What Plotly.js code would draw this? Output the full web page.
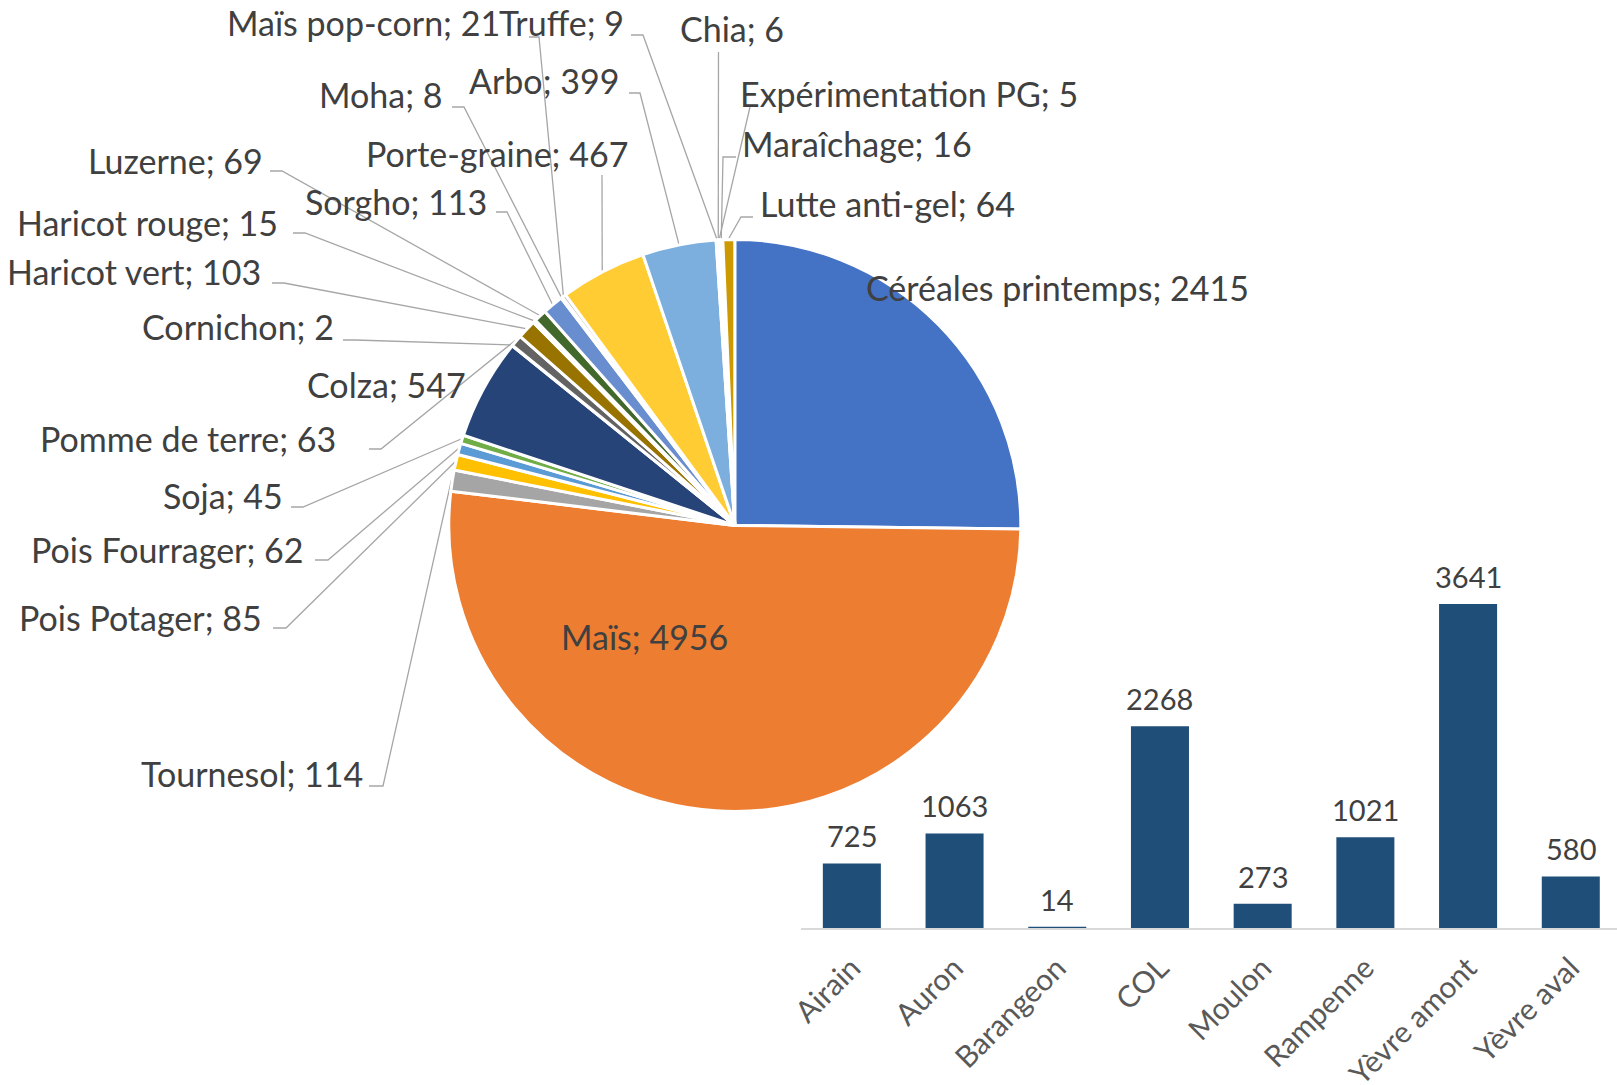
<!DOCTYPE html>
<html><head><meta charset="utf-8">
<script src="https://cdn.plot.ly/plotly-3.0.1.min.js"></script>
<style>html,body{margin:0;padding:0;background:#fff;overflow:hidden}</style>
</head><body>
<div id="chart" style="width:1617px;height:1085px"></div>
<script>
// ---- data ----
const cropNames = ['Céréales printemps','Maïs','Tournesol','Pois Potager','Pois Fourrager','Soja','Colza','Cornichon','Pomme de terre','Haricot vert','Haricot rouge','Luzerne','Sorgho','Moha','Maïs pop-corn','Porte-graine','Arbo','Truffe','Chia','Expérimentation PG','Maraîchage','Lutte anti-gel'];
const cropValues = [2415,4956,114,85,62,45,547,2,63,103,15,69,113,8,21,467,399,9,6,5,16,64];
const cropColors = ['#4472C4','#ED7D31','#A5A5A5','#FFC000','#5B9BD5','#70AD47','#264478','#9E480E','#636363','#997300','#255E91','#43682B','#698ED0','#F1975A','#B7B7B7','#FFCD33','#7CAFDD','#8CC168','#335AA1','#BE5B17','#848484','#CC9A00'];

const basinNames = ['Airain','Auron','Barangeon','COL','Moulon','Rampenne','Yèvre amont','Yèvre aval'];
const basinValues = [725,1063,14,2268,273,1021,3641,580];

// ---- layout constants (pixels) ----
const W = 1617, H = 1085;
const PIE_CX = 734.8, PIE_CY = 525.4, PIE_R = 286;
const FONT = 'Lato, "Open Sans", sans-serif';
const TXT = '#404040';
const px = x => x / W;
const py = y => 1 - y / H;

// label placement: x,y (px, text vertical centre), anchor, and leader-line start (stub)
const labelLayout = {
  'Céréales printemps': {x:864, y:287, a:'left', line:null},
  'Maïs':               {x:644.5, y:637, a:'center', line:null},
  'Tournesol':          {x:365, y:773, a:'right', line:[[369,786],[383,786]]},
  'Pois Potager':       {x:264, y:617, a:'right', line:[[273,628],[286,628]]},
  'Pois Fourrager':     {x:306, y:549, a:'right', line:[[315,560],[328,560]]},
  'Soja':               {x:285, y:496, a:'right', line:[[291,507],[303,507]]},
  'Colza':              {x:468, y:384, a:'right', line:null},
  'Cornichon':          {x:336, y:327, a:'right', line:[[343,340],[355,340]]},
  'Pomme de terre':     {x:338, y:438, a:'right', line:[[369,449],[381,449]]},
  'Haricot vert':       {x:263, y:271, a:'right', line:[[272,283],[284,283]]},
  'Haricot rouge':      {x:279.5, y:222, a:'right', line:[[293,233],[305,233]]},
  'Luzerne':            {x:265, y:160, a:'right', line:[[270,171],[282,171]]},
  'Sorgho':             {x:489, y:201, a:'right', line:[[496,212],[507,212]]},
  'Moha':               {x:445.5, y:95, a:'right', line:[[452,107],[464,107]]},
  'Maïs pop-corn':      {x:502, y:23, a:'right', line:[[529,37],[539,37]]},
  'Porte-graine':       {x:630, y:153, a:'right', line:[[602,175]]},
  'Arbo':               {x:621, y:80, a:'right', line:[[629,93],[640,93]]},
  'Truffe':             {x:497, y:23, a:'left', line:[[631,35],[643,35]]},
  'Chia':               {x:678, y:29, a:'left', line:[[718.5,52]]},
  'Expérimentation PG': {x:738, y:93, a:'left', line:[[750,107]]},
  'Maraîchage':         {x:740, y:144, a:'left', line:[[736,157],[723,157]]},
  'Lutte anti-gel':     {x:758, y:204, a:'left', line:[[753,217],[741,217]]}
};

// ---- pie geometry from data ----
const total = cropValues.reduce((a, b) => a + b, 0);
let cum = 0;
const midAngles = cropValues.map(v => { const m = (cum + v / 2) / total * 2 * Math.PI; cum += v; return m; });
function piePoint(i, rr) {
  const t = midAngles[i];
  return [PIE_CX + rr * Math.sin(t), PIE_CY - rr * Math.cos(t)];
}

const annotations = [];
const shapes = [];
cropNames.forEach((name, i) => {
  const L = labelLayout[name];
  annotations.push({
    xref: 'paper', yref: 'paper', x: px(L.x), y: py(L.y),
    xanchor: L.a, yanchor: 'middle', showarrow: false,
    text: name + '; ' + cropValues[i],
    font: {family: FONT, size: 34, color: TXT}
  });
  if (L.line) {
    const pts = L.line.concat([piePoint(i, PIE_R + 1)]);
    const d = pts.map((p, k) => (k ? 'L' : 'M') + px(p[0]).toFixed(5) + ',' + py(p[1]).toFixed(5)).join(' ');
    shapes.push({type: 'path', xref: 'paper', yref: 'paper', path: d,
      line: {color: '#A6A6A6', width: 1.3}, layer: 'below'});
  }
});

// bar value labels
basinNames.forEach((n, i) => {
  annotations.push({
    xref: 'x', yref: 'y', x: i, y: basinValues[i],
    xanchor: 'center', yanchor: 'bottom', yshift: 8, showarrow: false,
    text: String(basinValues[i]),
    font: {family: FONT, size: 29, color: TXT}
  });
});

const pie = {
  type: 'pie', labels: cropNames, values: cropValues, sort: false,
  direction: 'clockwise', rotation: 0,
  marker: {colors: cropColors, line: {color: '#FFFFFF', width: 3}},
  textinfo: 'none', hoverinfo: 'skip', showlegend: false,
  domain: {x: [px(PIE_CX - PIE_R), px(PIE_CX + PIE_R)], y: [py(PIE_CY + PIE_R), py(PIE_CY - PIE_R)]}
};

const AXIS_Y = 928, Y_TOP = 572;
const bars = {
  type: 'bar', x: basinNames.map((_, i) => i), y: basinValues,
  marker: {color: '#1F4E79'}, hoverinfo: 'skip', showlegend: false,
  xaxis: 'x', yaxis: 'y'
};

const layout = {
  width: W, height: H, margin: {l: 0, r: 0, t: 0, b: 0},
  paper_bgcolor: '#FFFFFF', plot_bgcolor: 'rgba(0,0,0,0)',
  showlegend: false, bargap: 0.435,
  xaxis: {
    domain: [px(800.5), 1], range: [-0.5, 7.45],
    tickmode: 'array', tickvals: basinNames.map((_, i) => i), ticktext: basinNames,
    tickangle: -45, ticks: '', showgrid: false, zeroline: false,
    showline: true, linecolor: '#D9D9D9', linewidth: 1.5, layer: 'above traces',
    ticklabelstandoff: 9,
    tickfont: {family: FONT, size: 30, color: '#595959'}, fixedrange: true
  },
  yaxis: {
    domain: [py(AXIS_Y), py(Y_TOP)], range: [0, 4000],
    visible: false, showgrid: false, zeroline: false, fixedrange: true
  },
  annotations: annotations,
  shapes: shapes
};

Plotly.newPlot('chart', [pie, bars], layout, {staticPlot: true, displayModeBar: false});
</script>
</body></html>
